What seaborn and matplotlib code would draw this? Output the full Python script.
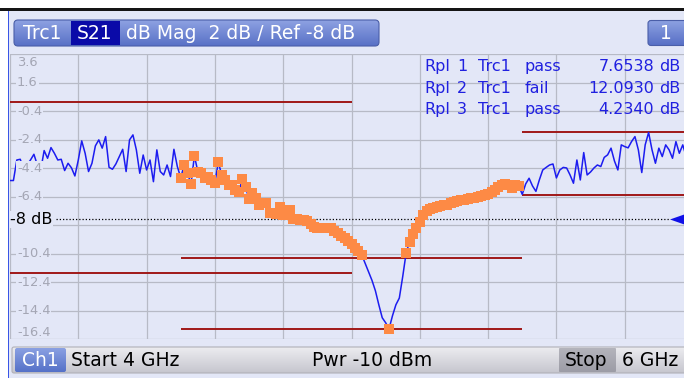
import numpy as np
import matplotlib
matplotlib.use("Agg")
import matplotlib.pyplot as plt
import seaborn as sns
from matplotlib.patches import FancyBboxPatch, Rectangle, Polygon
from matplotlib.colors import to_rgb

# ---- sweep setup -------------------------------------------------------
start_ghz = 4.0
stop_ghz = 6.0
n_points = 201
ref_level_db = -8.0
db_per_div = 2.0
grid_top_db = 3.6
grid_bottom_db = -16.4

# Trc1 S21 magnitude in dB, one value per sweep point
s21_db = [
    -5.27, -5.27, -3.83, -3.78, -4.48, -4.17, -3.83, -3.43, -4.18, -4.53,
    -3.17, -3.71, -2.96, -3.36, -3.83, -3.78, -4.57, -4.06, -4.38, -4.95,
    -3.83, -2.49, -3.36, -4.64, -4.06, -2.84, -2.42, -3.00, -2.19, -4.34,
    -4.48, -4.11, -3.59, -3.08, -4.64, -2.42, -2.07, -3.12, -4.76, -3.48,
    -4.53, -3.83, -5.35, -3.12, -4.64, -4.88, -4.18, -4.99, -3.08, -4.29,
    -5.07, -4.18, -4.76, -5.51, -3.54, -4.64, -4.76, -5.11, -4.99, -5.23,
    -5.42, -3.99, -4.88, -5.23, -5.58, -5.58, -5.93, -6.09, -5.18, -5.74,
    -6.58, -6.12, -6.50, -6.98, -6.84, -6.82, -7.52, -7.54, -7.61, -7.10,
    -7.68, -7.47, -7.33, -7.98, -8.00, -8.03, -8.05, -8.08, -8.31, -8.50,
    -8.57, -8.61, -8.61, -8.61, -8.61, -8.83, -8.97, -9.18, -9.32, -9.52,
    -9.74, -9.99, -10.23, -10.48, -11.08, -11.67, -12.27, -13.00, -13.98, -14.89,
    -15.24, -15.66, -14.75, -13.98, -13.51, -12.00, -10.34, -9.57, -9.01, -8.59,
    -8.17, -7.68, -7.40, -7.29, -7.19, -7.10, -7.05, -7.01, -6.98, -6.87,
    -6.80, -6.73, -6.66, -6.61, -6.57, -6.52, -6.47, -6.42, -6.38, -6.31,
    -6.21, -6.10, -5.96, -5.72, -5.61, -5.53, -5.58, -5.81, -5.61, -5.65,
    -6.24, -5.51, -5.11, -5.65, -6.03, -5.23, -4.53, -4.35, -4.18, -4.11,
    -5.09, -4.53, -4.35, -4.39, -4.88, -5.46, -3.83, -5.23, -3.31, -4.88,
    -4.67, -4.39, -4.18, -4.29, -3.65, -3.47, -3.00, -3.90, -4.53, -2.77,
    -2.89, -2.98, -2.54, -2.19, -3.12, -4.71, -2.77, -1.90, -3.12, -4.06,
    -3.00, -3.59, -2.77, -3.12, -3.71, -2.54, -3.36, -2.77, -3.59, -3.05,
    -3.40,
]

# ripple limit ranges
rpl_names = ["Rpl 1", "Rpl 2", "Rpl 3"]
rpl_start_ghz = [4.0, 4.5, 5.5]
rpl_stop_ghz = [5.0, 5.5, 6.0]
rpl_upper_db = [0.22, -10.67, -1.89]
rpl_lower_db = [-11.76, -15.66, -6.28]
rpl_result = ["pass", "fail", "pass"]
rpl_value_db = [7.6538, 12.0930, 4.2340]

tick_labels_db = [1.6, -0.4, -2.4, -4.4, -6.4, -10.4, -12.4, -14.4]

# ---- colours -----------------------------------------------------------
BG = "#e3e7f7"
GRID = "#b7bac6"
TRACE = "#1c1cf0"
MARK = "#fd8a45"
LIMIT = "#a01818"
TICKTXT = "#a4a6b4"
RPLTXT = "#2020e0"
UI_FS = 13.5

sns.set_theme(style="white")
plt.rcParams["font.family"] = ["DejaVu Sans"]

W, H = 684, 378
fig = plt.figure(figsize=(W / 100, H / 100), dpi=100, facecolor="white")

# ---- screen chrome (pixel coordinates) ---------------------------------
chrome = fig.add_axes([0, 0, 1, 1], zorder=0)
chrome.axis("off")


def gradient_box(axx, x0, y0, w, h, top, bottom, radius=3.0, edge="none", z=2):
    box = FancyBboxPatch((x0, y0), w, h,
                         boxstyle=f"round,pad=0,rounding_size={radius}",
                         facecolor="none", edgecolor=edge, lw=0.8, zorder=z + 1)
    axx.add_patch(box)
    c0 = np.array(to_rgb(top))
    c1 = np.array(to_rgb(bottom))
    t = np.linspace(0, 1, 64)[:, None]
    img = (c0 * (1 - t) + c1 * t)[:, None, :]
    im = axx.imshow(img, extent=(x0, x0 + w, y0 + h, y0), aspect="auto",
                    zorder=z, interpolation="bilinear")
    im.set_clip_path(box)
    return box


def words(axx, items, y, color, z=6):
    for x, s in items:
        axx.text(x, y, s, color=color, fontsize=UI_FS, ha="left", va="center", zorder=z)


chrome.add_patch(Rectangle((8, 11), W - 8, H - 11, facecolor=BG, edgecolor="none", zorder=0))
chrome.add_patch(Rectangle((0, 8), W, 3, facecolor="#151515", edgecolor="none", zorder=1))
chrome.add_patch(Rectangle((7.5, 11), 1.6, H - 11, facecolor="#3a55e6", edgecolor="none", zorder=1))

# title bar
gradient_box(chrome, 14, 20, 365, 26, "#8ea2e2", "#5870c6", radius=4, edge="#4a5ea8")
chrome.add_patch(Rectangle((70.5, 20.6), 49.5, 24.8, facecolor="#0a0aa8", edgecolor="none", zorder=4))
words(chrome, [(23, "Trc1"), (77, "S21"), (126, "dB Mag  2 dB / Ref -8 dB")],
      33.5, "white")
gradient_box(chrome, 648, 20.5, 44, 25, "#8ea2e2", "#5870c6", radius=3, edge="#4a5ea8")
chrome.text(666, 33.5, "1", color="white", fontsize=UI_FS, ha="center", va="center", zorder=6)

# bottom channel bar
gradient_box(chrome, 12, 347, 680, 26, "#ececf0", "#c6c6ce", radius=2, edge="#b0b0b8")
gradient_box(chrome, 15, 348, 51, 24, "#8aa0e2", "#5571c8", radius=2)
gradient_box(chrome, 559, 348, 57, 24, "#b4b4bc", "#9c9ca6", radius=1)
words(chrome, [(22, "Ch1")], 361, "white", z=7)
words(chrome, [(71, "Start 4 GHz"), (312, "Pwr -10 dBm"),
               (565, "Stop"), (622, "6 GHz")], 361, "black", z=7)

chrome.set_xlim(0, W)
chrome.set_ylim(H, 0)

# ---- diagram area ------------------------------------------------------
left_px, right_px, top_px, bottom_px = 10, 693, 54, 339.3
ax = fig.add_axes([left_px / W, (H - bottom_px) / H,
                   (right_px - left_px) / W, (bottom_px - top_px) / H], zorder=1)
ax.set_facecolor(BG)

freq_ghz = np.linspace(start_ghz, stop_ghz, n_points)
level = np.asarray(s21_db)

ax.set_xlim(start_ghz, stop_ghz)
ax.set_ylim(grid_bottom_db, grid_top_db)
ax.set_xticks(np.linspace(start_ghz, stop_ghz, 11))
ax.set_yticks(np.arange(grid_bottom_db, grid_top_db + 0.01, db_per_div))
ax.grid(True, color=GRID, lw=0.9)
ax.tick_params(left=False, bottom=False, labelleft=False, labelbottom=False)
for sp in ax.spines.values():
    sp.set_visible(False)
ax.set_xlabel("")
ax.set_ylabel("")

# ripple limit lines
ax.hlines(rpl_upper_db, rpl_start_ghz, rpl_stop_ghz, color=LIMIT, lw=1.4, zorder=3)
ax.hlines(rpl_lower_db, rpl_start_ghz, rpl_stop_ghz, color=LIMIT, lw=1.4, zorder=3)

# reference level
ax.axhline(ref_level_db, xmin=(56 - left_px) / (right_px - left_px),
           xmax=(670 - left_px) / (right_px - left_px),
           color="black", lw=0.9, linestyle=(0, (1, 1.6)), zorder=2)

# trace
sns.lineplot(x=freq_ghz, y=level, ax=ax, color=TRACE, lw=1.1, sort=False, zorder=4)

# points of the failing range that lie outside its ripple band
eps = 1e-9
in_r2 = (freq_ghz >= rpl_start_ghz[1] - eps) & (freq_ghz < rpl_stop_ghz[1] - eps)
flag = in_r2 & ((level > rpl_upper_db[1]) | (level <= rpl_lower_db[1] + eps))
sns.scatterplot(x=freq_ghz[flag], y=level[flag], ax=ax, marker="s", s=50,
                color=MARK, linewidth=0, zorder=5)

# grid value labels
ytr = ax.get_yaxis_transform()
span = right_px - left_px
lx = (17 - left_px) / span
bb = dict(facecolor=BG, edgecolor="none", pad=0.6)
for v in tick_labels_db:
    ax.text(lx, v, f"{v:.1f}", transform=ytr, ha="left", va="center",
            color=TICKTXT, fontsize=9.4, bbox=bb, zorder=6)
ax.text(lx, grid_top_db - 0.63, f"{grid_top_db:.1f}", transform=ytr, ha="left",
        va="center", color=TICKTXT, fontsize=9.4, zorder=6)
ax.text(lx, grid_bottom_db + 0.45, f"{grid_bottom_db:.1f}", transform=ytr, ha="left",
        va="center", color=TICKTXT, fontsize=9.4, zorder=6)
ax.text(0.0, ref_level_db, f"{ref_level_db:.0f} dB", transform=ytr, ha="left",
        va="center", color="black", fontsize=11.5,
        bbox=dict(facecolor=BG, edgecolor="none", pad=0.8), zorder=7)

# ripple results
px_per_div = (bottom_px - top_px) / 10
for k in range(3):
    yv = grid_top_db - (66.7 + 21.6 * k - top_px) / px_per_div * db_per_div
    name, num = rpl_names[k].split()
    for cx, s in [(424, name), (457, num), (478, "Trc1"), (525, rpl_result[k])]:
        ax.text((cx - left_px) / span, yv, s, transform=ytr,
                ha="left", va="center", color=RPLTXT, fontsize=11.5, zorder=7)
    ax.text((654 - left_px) / span, yv, f"{rpl_value_db[k]:.4f}",
            transform=ytr, ha="right", va="center", color=RPLTXT, fontsize=11.5, zorder=7)
    ax.text((659 - left_px) / span, yv, "dB", transform=ytr,
            ha="left", va="center", color=RPLTXT, fontsize=11.5, zorder=7)

# reference level arrow on the right edge
deco = fig.add_axes([0, 0, 1, 1], zorder=2)
deco.patch.set_alpha(0)
deco.axis("off")
ref_px = top_px + (grid_top_db - ref_level_db) / db_per_div * px_per_div
deco.add_patch(Polygon([(670, ref_px), (690, ref_px - 7), (690, ref_px + 7)],
                       closed=True, facecolor="#1010e8", edgecolor="none"))
deco.set_xlim(0, W)
deco.set_ylim(H, 0)

fig.savefig("out.png", dpi=100, facecolor="white")
